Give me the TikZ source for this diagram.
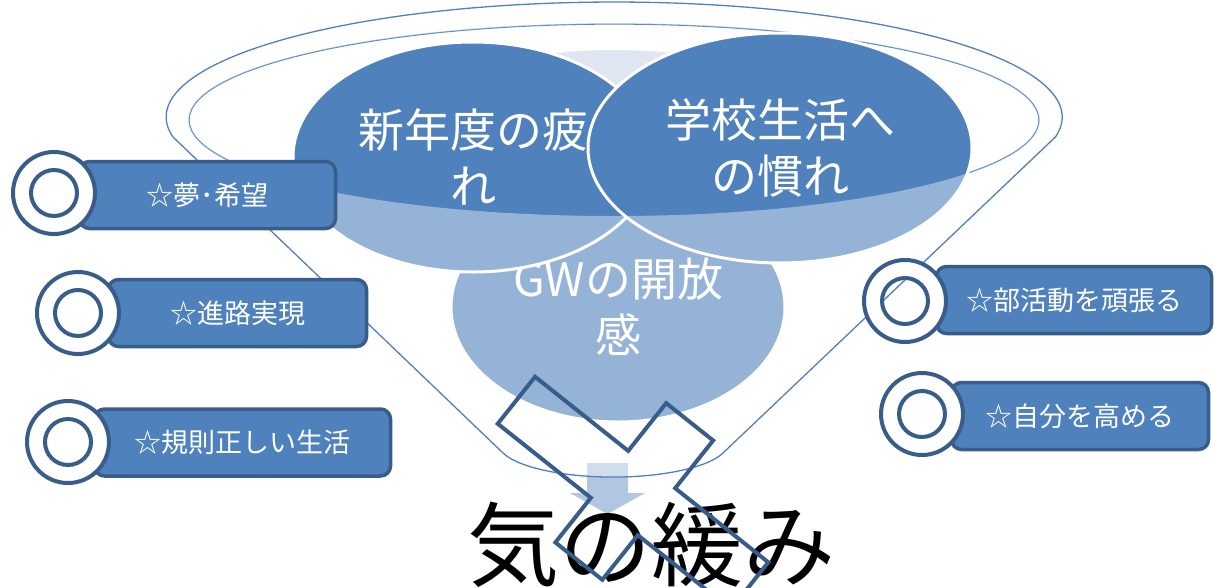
\documentclass[tikz,border=0pt]{standalone}
\usepackage{fontspec}
\setmainfont{Noto Sans CJK JP}
\usetikzlibrary{shapes.geometric}
\definecolor{BubbleClr}{RGB}{79,129,189}
\definecolor{BorderClr}{RGB}{56,93,138}
\definecolor{PaleClr}{RGB}{224,230,241}

\begin{document}
\begin{tikzpicture}[x=1pt,y=-1pt,
  funnelline/.style={draw=BubbleClr,line width=1.3pt},
  bubble/.style={ellipse,fill=BubbleClr,draw=white,line width=3pt,inner sep=0pt,
    text=white,align=center,font=\fontsize{46}{56}\selectfont},
  tagbox/.style={rectangle,rounded corners=10pt,fill=BubbleClr,draw=BorderClr,
    line width=3.5pt,text=white,font=\fontsize{27}{32}\selectfont,
    minimum height=67pt,inner sep=0pt},
  ringline/.style={draw=BorderClr,line width=4pt,fill=white,even odd rule},
  crossline/.style={draw=BorderClr,line width=4pt,line join=miter}]
\useasboundingbox (0,0) rectangle (1214,587);

% Inner rim of the funnel, hidden behind the bubbles.
\draw[funnelline] (614,120) ellipse [x radius=425,y radius=96];

% Pale part seen between the two upper bubbles.
\begin{scope}
\clip (614,120) ellipse [x radius=425,y radius=96];
\fill[PaleClr] (614,170) ellipse [x radius=260,y radius=120];
\end{scope}

% The three bubbles.
\node[bubble,minimum width=334pt,minimum height=230pt] (holiday) at (618,307) {GWの開放\\感};
\node[bubble,minimum width=360pt,minimum height=230pt] (fatigue) at (473,157) {新年度の疲\\れ};
\node[bubble,minimum width=384pt,minimum height=230pt] (habit) at (780,148) {学校生活へ\\の慣れ};

% Down arrow at the neck.
\fill[BubbleClr,opacity=0.45] (587,463) -- (628,463) -- (628,493) -- (645,493)
  -- (607.5,514) -- (570,493) -- (587,493) -- cycle;

% Glass of the funnel, lightens what lies below the rim.
\fill[white,opacity=0.4,even odd rule] (173,137)
  arc[start angle=170,end angle=370,x radius=448,y radius=115] -- (723,453)
  arc[start angle=17,end angle=163,x radius=115,y radius=34] -- cycle
  (614,120) ellipse [x radius=425,y radius=96];

% Outline of the funnel.
\draw[funnelline] (173,137)
  arc[start angle=170,end angle=370,x radius=448,y radius=115] -- (723,453)
  arc[start angle=17,end angle=163,x radius=115,y radius=34] -- cycle;

% Tags on both sides.
\node[tagbox,minimum width=256pt] (dream) at (207.5,195) {☆夢･希望};
\node[tagbox,minimum width=258pt] (career) at (237.5,313) {☆進路実現};
\node[tagbox,minimum width=296pt] (rules) at (242.5,442.5) {☆規則正しい生活};
\node[tagbox,minimum width=275pt] (club) at (1074,300) {☆部活動を頑張る};
\node[tagbox,minimum width=257pt] (growth) at (1080,416) {☆自分を高める};

% Rings at the ends of the tags.
\coordinate (dreamring) at (54,193);
\coordinate (careerring) at (78,313);
\coordinate (rulesring) at (68,442);
\coordinate (clubring) at (905,301);
\coordinate (growthring) at (922,414);
\draw[ringline] (dreamring) circle[radius=41] (dreamring) circle[radius=23];
\draw[ringline] (careerring) circle[radius=41] (careerring) circle[radius=23];
\draw[ringline] (rulesring) circle[radius=41] (rulesring) circle[radius=23];
\draw[ringline] (clubring) circle[radius=41] (clubring) circle[radius=23];
\draw[ringline] (growthring) circle[radius=41] (growthring) circle[radius=23];

% Result below the funnel.
\node[anchor=base,font=\fontsize{92}{100}\selectfont] (slack) at (651,579) {気の緩み};

% Cross over the result.
\begin{scope}[shift={(633,493)},rotate=-38.5]
\draw[crossline] (-149,-30) -- (-149,30) -- (-30,30) -- (-30,87) -- (30,87)
  -- (30,30) -- (149,30) -- (149,-30) -- (30,-30) -- (30,-91) -- (-30,-91)
  -- (-30,-30) -- cycle;
\end{scope}

\end{tikzpicture}
\end{document}
